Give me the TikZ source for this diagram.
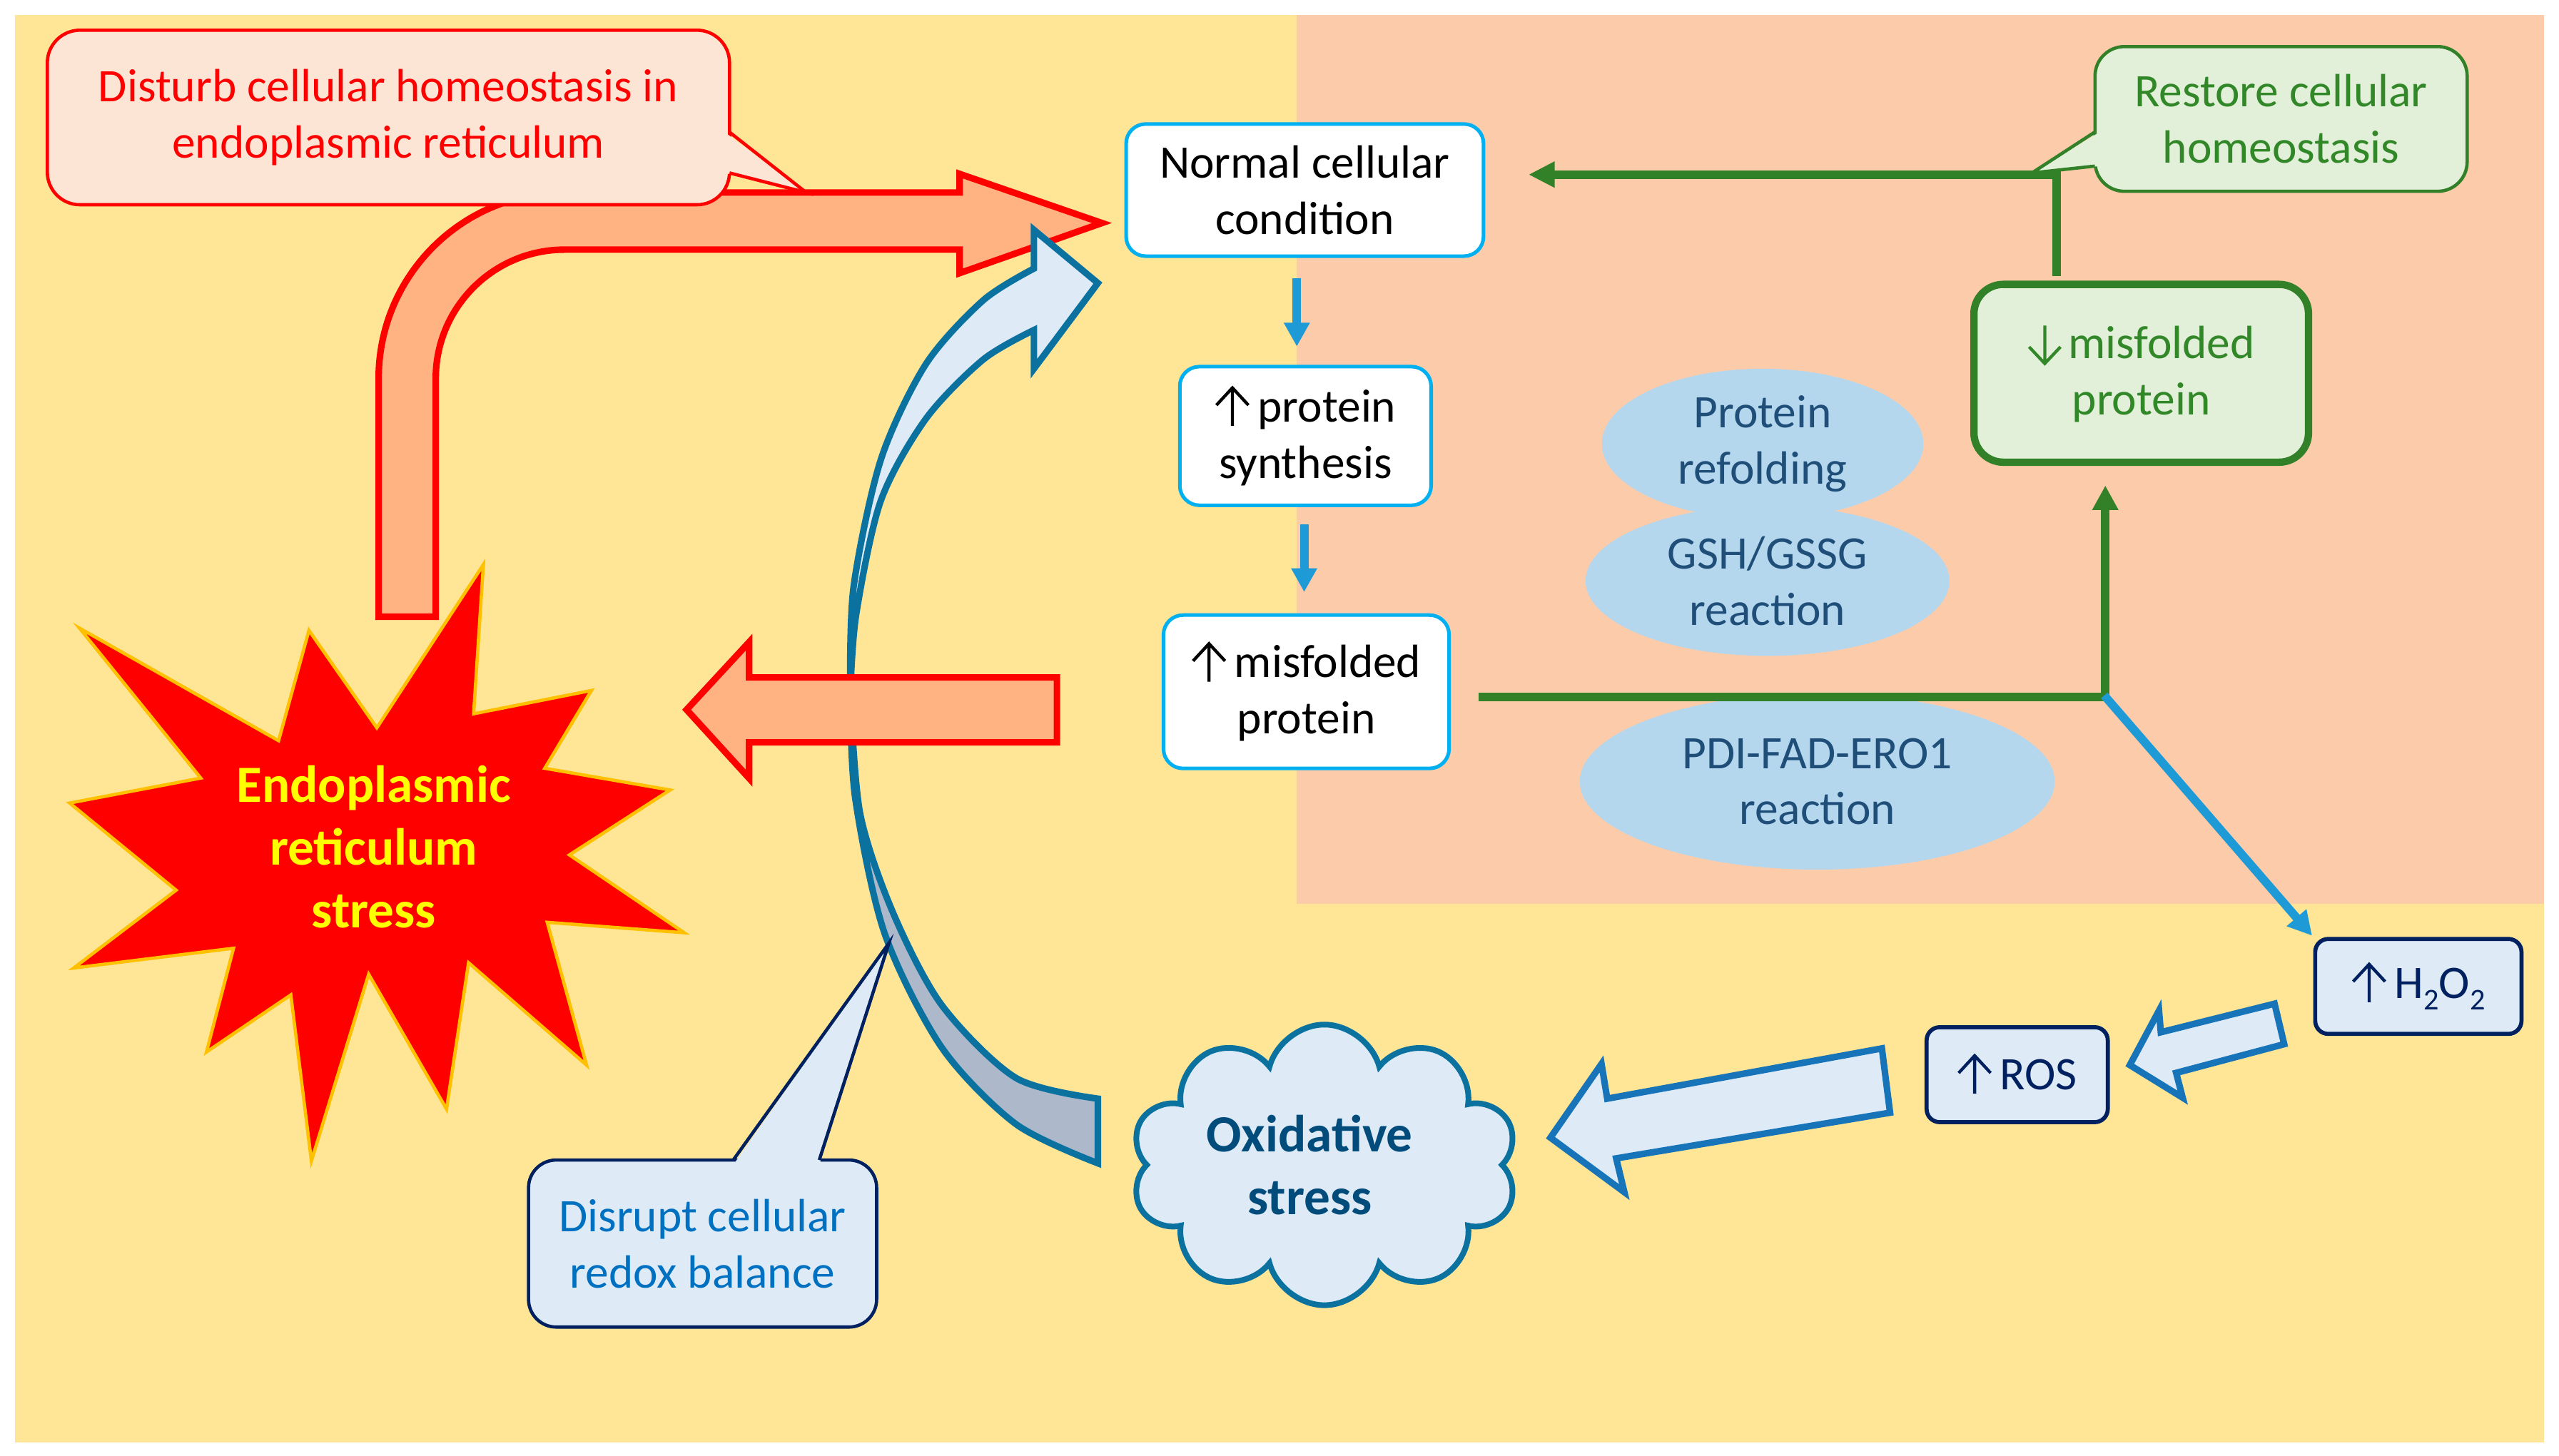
\documentclass[tikz,border=0pt]{standalone}
\usepackage{fontspec}
\setmainfont{Carlito}
\usetikzlibrary{shapes.symbols,shapes.geometric,arrows.meta}
\definecolor{bgyellow}{RGB}{255,230,150}
\definecolor{bgpeach}{RGB}{252,204,170}
\definecolor{salmon}{RGB}{255,178,130}
\definecolor{pinkfill}{RGB}{253,229,214}
\definecolor{lblue}{RGB}{222,235,247}
\definecolor{ribdark}{RGB}{173,185,202}
\definecolor{ribline}{RGB}{11,114,160}
\definecolor{ellblue}{RGB}{180,215,238}
\definecolor{elltext}{RGB}{31,78,121}
\definecolor{cloudtext}{RGB}{2,76,124}
\definecolor{navy}{RGB}{0,32,96}
\definecolor{midblue}{RGB}{0,112,192}
\definecolor{arrline}{RGB}{23,116,185}
\definecolor{cyanb}{RGB}{0,176,240}
\definecolor{arrblue}{RGB}{30,155,215}
\definecolor{dgreen}{RGB}{50,128,40}
\definecolor{tgreen}{RGB}{50,135,40}
\definecolor{lgreen}{RGB}{226,240,217}
\definecolor{gold}{RGB}{255,192,0}
\definecolor{ryellow}{RGB}{255,255,0}
\newcommand{\fsz}{\fontsize{28.6}{34.5}\selectfont}
\newcommand{\fbz}{\fontsize{32}{38.5}\selectfont\bfseries}
\newcommand{\myup}{\tikz[baseline=0pt,x=1pt,y=1pt]\draw[draw=., line width=1.9, sharp corners, line cap=butt, line join=miter, solid] (0,-2.5) -- (0,20.8) (-9.8,10.2) -- (0,20.8) -- (9.8,10.2);\hspace{4.8pt}}
\newcommand{\mydown}{\tikz[baseline=0pt,x=1pt,y=1pt]\draw[draw=., line width=1.9, sharp corners, line cap=butt, line join=miter, solid] (0,20.4) -- (0,-2.9) (-9.6,7.3) -- (0,-2.9) -- (9.6,7.3);\hspace{3.8pt}}
\newcommand{\mysub}[1]{\raisebox{-7.3pt}{\fontsize{18.5}{18.5}\selectfont #1}}
\tikzset{
  redarrow/.style={draw=red, fill=salmon, line width=4, line join=miter},
  ribbon/.style={draw=ribline, line width=4, line join=miter},
  blockarr/.style={draw=arrline, fill=lblue, line width=4, line join=miter},
  ell/.style={ellipse, fill=ellblue, text=elltext, inner sep=0, align=center},
  wbox/.style={rectangle, draw=cyanb, fill=white, line width=2.2, rounded corners=12, inner sep=0, align=center, text=black},
  nbox/.style={rectangle, draw=navy, fill=lblue, line width=2.5, rounded corners=8, inner sep=0, align=center, text=navy},
  callbox/.style={rectangle, inner sep=0, align=center, line width=2},
  barrow/.style={draw=arrblue, line width=5.2, -{Triangle[width=15,length=14.6]}},
  gline/.style={draw=dgreen, line width=5.2},
}
\begin{document}
\begin{tikzpicture}[x=1pt,y=-1pt,font=\fsz]
\useasboundingbox (0,0) rectangle (1568,892);
\fill[white] (0,0) rectangle (1568,892);
\fill[bgyellow] (9,9) rectangle (1559,884);
\fill[bgpeach] (794.6,9) rectangle (1559,554);

% ellipses
\node[ell, minimum width=197, minimum height=92] (pr) at (1080,272) {Protein\\refolding};
\node[ell, minimum width=223, minimum height=92] (gsh) at (1083,356) {GSH/GSSG\\reaction};
\node[ell, minimum width=291, minimum height=108] (pdi) at (1113.5,479) {PDI-FAD-ERO1\\reaction};

% red bent arrow
\draw[redarrow] (232,378) -- (232,232) arc[start angle=180,end angle=270,radius=114]
  -- (588,118) -- (588,106.6) -- (675.2,136.7) -- (588,167.4) -- (588,153) -- (346,153)
  arc[start angle=270,end angle=180,radius=79] -- (267,378) -- cycle;

% disturb callout
\node[callbox, fill=pinkfill, draw=red, text=red, minimum width=418, minimum height=107, rounded corners=20] (dist) at (238,72) {Disturb cellular homeostasis in\\endoplasmic reticulum};
\fill[pinkfill] (444,81) -- (494,118) -- (444,106) -- cycle;
\draw[red, line width=2, line join=miter] (447,81) -- (494,118) -- (447,106);

% blue ribbon arrow
\draw[ribbon, fill=lblue] plot[smooth] coordinates {(521,425) (524.6,376.6) (539.7,306.9) (567.3,256.7) (602.4,220.4) (633.5,202.3)}
  -- (633.5,226) -- (672.7,173.5) -- (633.5,140.9) -- (633.5,164.6)
  -- plot[smooth] coordinates {(633.5,164.6) (602.4,184.1) (567.3,223.2) (539.7,281.8) (523,360) (521,425)} -- cycle;
\draw[ribbon, fill=ribdark] plot[smooth] coordinates {(521,425) (524,489) (542,572) (577,642) (622.5,689) (672.7,713)}
  -- (672.7,673.4)
  -- plot[smooth] coordinates {(672.7,673.4) (622.5,660.7) (577,616) (547,559) (527,498.5) (521,425)} -- cycle;

% red left arrow (on top of the ribbon)
\draw[redarrow] (647.6,415.2) -- (459,415.2) -- (459,393.6) -- (420.7,435) -- (459,477) -- (459,455) -- (647.6,455) -- cycle;

% star
\draw[fill=red, draw=gold, line width=2] (48.7,385) -- (170.7,454) -- (189.3,386.4) -- (230.9,446.1) -- (296.2,346) -- (290.2,437.5) -- (362.4,423.2) -- (333.8,470.9) -- (410.6,484.2) -- (348.9,524) -- (419.2,571.7) -- (335.3,565.3) -- (359.4,652.8) -- (287.1,590.1) -- (273.6,679.8) -- (225.9,597.1) -- (190.8,711.6) -- (178.2,609.8) -- (126.5,644.8) -- (143.1,581.2) -- (45.2,593.3) -- (107.9,545.6) -- (42.7,492.2) -- (123,476.9) -- cycle;
\node[font=\fbz, text=ryellow, align=center] (ers) at (229,519) {Endoplasmic\\reticulum\\stress};

% white boxes
\node[wbox, minimum width=219, minimum height=81] (ncc) at (799.5,116.5) {Normal cellular\\condition};
\node[wbox, minimum width=154, minimum height=85] (ps) at (799.9,267.2) {\myup protein\\synthesis};
\node[wbox, minimum width=175, minimum height=94] (mp) at (800.4,424) {\myup misfolded\\protein};
\coordinate (c1) at (794.6,0);
\coordinate (c2) at (799.1,0);
\draw[barrow, shorten <=12.4, shorten >=11.2] (ncc.south -| c1) -- (ps.north -| c1);
\draw[barrow, shorten <=10.6, shorten >=13] (ps.south -| c2) -- (mp.north -| c2);

% green part
\node[rectangle, draw=dgreen, fill=lgreen, line width=4.5, rounded corners=18, inner sep=0, align=center, text=tgreen, minimum width=205, minimum height=109] (dm) at (1312,228.8) {\mydown misfolded\\protein};
\coordinate (gj) at (1290,427);
\coordinate (gk) at (1260,107);
\draw[gline, -{Triangle[width=15,length=15]}, shorten <=17, shorten >=12] (mp.east |- gj) -- (gj) -- (dm.south -| gj);
\draw[gline, -{Triangle[width=15,length=16]}, shorten <=3, shorten >=26.5] (dm.north -| gk) -- (gk) -- (ncc.east |- gk);

\node[callbox, fill=lgreen, draw=dgreen, text=tgreen, minimum width=228, minimum height=88.7, rounded corners=18] (rest) at (1397.7,72.9) {Restore cellular\\homeostasis};
\fill[lgreen] (1286.6,80.9) -- (1245,106) -- (1286.6,101.8) -- cycle;
\draw[dgreen, line width=2, line join=miter] (1283.6,80.9) -- (1245,106) -- (1283.6,101.8);

% blue diagonal
\node[nbox, minimum width=126.4, minimum height=58.2] (h2) at (1481.8,604.6) {\myup H\mysub{2}O\mysub{2}};
\node[nbox, minimum width=111, minimum height=58.2] (ros) at (1236,658.7) {\myup ROS};
\draw[barrow, shorten <=-1, shorten >=1] (gj) -- (h2.north west);

% block arrows
\draw[blockarr] (1393.7,615.2) -- (1324,632.7) -- (1322.9,619.4) -- (1305,652.8) -- (1337.4,672.8) -- (1333.4,657.6) -- (1399.6,640) -- cycle;
\draw[blockarr] (1153.1,642.6) -- (984.8,673.4) -- (981.3,652.1) -- (950,697.3) -- (995.3,730.7) -- (990.3,710) -- (1158.1,682) -- cycle;

% cloud
\node[cloud, cloud puffs=10, aspect=1.35, draw=ribline, fill=lblue, line width=3.5, minimum width=237, minimum height=172, inner sep=0, font=\fbz, text=cloudtext, align=center] (ox) at (811.5,714) {\hspace*{-18pt}Oxidative\\\hspace*{-18pt}stress};

% disrupt callout
\node[callbox, fill=lblue, draw=navy, text=midblue, minimum width=213.3, minimum height=102.4, rounded corners=17] (dis) at (430.5,762.2) {Disrupt cellular\\redox balance};
\fill[lblue] (449.3,714) -- (544.7,578) -- (502,714) -- cycle;
\draw[navy, line width=2, line join=miter] (449.3,711) -- (544.7,578) -- (502,711);
\end{tikzpicture}
\end{document}
